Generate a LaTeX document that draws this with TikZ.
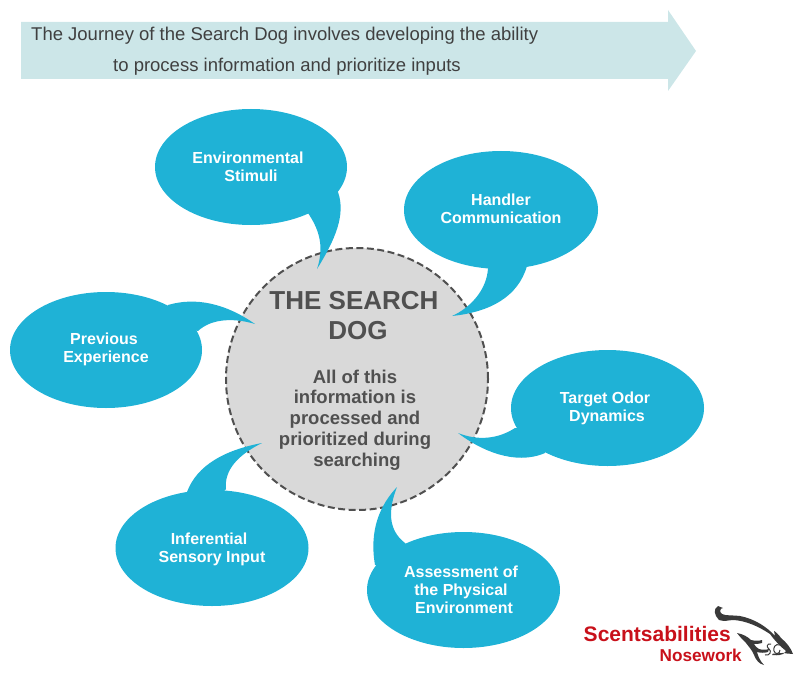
\documentclass[tikz,border=0pt]{standalone}
\usepackage{fontspec}
\setmainfont{Liberation Sans}
\definecolor{bub}{HTML}{1FB2D6}
\definecolor{band}{HTML}{CCE6E8}
\definecolor{disc}{HTML}{D9D9D9}
\definecolor{ink}{HTML}{505050}
\definecolor{logored}{HTML}{C8101A}
\definecolor{dog}{HTML}{3A3A3A}
\tikzset{
  bubfill/.style={fill=bub,draw=none},
  bubtext/.style={text=white,font=\fontsize{16}{18}\selectfont\bfseries,align=center},
  discline/.style={draw=ink,line width=2pt,dash pattern=on 7pt off 3.5pt,fill=disc},
  bandtext/.style={text=black!75,font=\fontsize{18.5}{20}\selectfont,anchor=west},
}
\begin{document}
\begin{tikzpicture}[x=1pt,y=-1pt]
\useasboundingbox (0,0) rectangle (810,687);
% banner
\fill[band] (21,22) -- (668,22) -- (668,10) -- (696,51) -- (668,91) -- (668,79) -- (21,79) -- cycle;
\node[bandtext,inner sep=0] (l1) at (31,36) {The Journey of the Search Dog involves developing the ability};
\node[bandtext,inner sep=0] (l2) at (113,67) {to process information and prioritize inputs};
% disc
\node[circle,discline,minimum size=262pt,inner sep=0] (c) at (357,379) {};
\node[text=ink,font=\fontsize{26}{30}\selectfont\bfseries,align=center] (t) at (354,316) {THE SEARCH\\\hspace*{8pt}DOG};
\node[text=ink,font=\fontsize{18.5}{20.8}\selectfont\bfseries,align=center] (b) at (355,420) {All of this\\information is\\processed and\\prioritized during\\\hspace*{4pt}searching};
% bubbles
\fill[bubfill] (251,167) ellipse [x radius=96,y radius=58];
\fill[bubfill] (308,213) .. controls (318,228) and (325,245) .. (317,269) .. controls (335,240) and (346,215) .. (338,192) -- (300,180) -- cycle;
\node[bubtext] (a) at (248,167) {Environmental\\\hspace*{6pt}Stimuli};
\fill[bubfill] (501,210) ellipse [x radius=97,y radius=59];
\fill[bubfill] (488,268) .. controls (487,290) and (470,308) .. (452,316) .. controls (490,312) and (518,297) .. (527,266) -- (510,250) -- cycle;
\node[bubtext] (d) at (501,209) {Handler\\Communication};
\fill[bubfill] (106,350) ellipse [x radius=96,y radius=58];
\fill[bubfill] (168,305) .. controls (195,297) and (225,303) .. (255,324) .. controls (235,318) and (212,318) .. (198,331) -- (170,325) -- cycle;
\node[bubtext] (p) at (106,349.5) {\hspace*{-4pt}Previous\\Experience};
\fill[bubfill] (607.5,408) ellipse [x radius=96.5,y radius=58];
\fill[bubfill] (515,428) .. controls (498,439) and (478,441) .. (458,433) .. controls (480,450) and (515,466) .. (545,453) -- (550,430) -- cycle;
\node[bubtext] (o) at (605,408.5) {Target Odor\\\hspace*{4pt}Dynamics};
\fill[bubfill] (212,548) ellipse [x radius=96.5,y radius=58];
\fill[bubfill] (187,492) .. controls (197,465) and (225,450) .. (262,443) .. controls (238,455) and (224,470) .. (226,489) -- (205,510) -- cycle;
\node[bubtext] (i) at (212,549) {\hspace*{-6pt}Inferential\\Sensory Input};
\fill[bubfill] (463.5,590) ellipse [x radius=96.5,y radius=58];
\fill[bubfill] (375,565) .. controls (369,530) and (380,505) .. (397,487) .. controls (388,510) and (388,530) .. (405,543) -- (430,570) -- cycle;
\node[bubtext] (e) at (461,590) {Assessment of\\the Physical\\\hspace*{6pt}Environment};
% logo
\node[text=logored,font=\fontsize{21}{21}\selectfont\bfseries,inner sep=0,anchor=east] (s) at (731,634) {Scentsabilities};
\node[text=logored,font=\fontsize{17.2}{17}\selectfont\bfseries,inner sep=0,anchor=east] (n) at (742,655) {Nosework};
% dog mark
\fill[dog] (718,606) .. controls (713,609) and (714,615) .. (719,620) .. controls (725,622) and (728,620) .. (734,620) .. controls (746,621) and (758,626) .. (770,634) .. controls (775,641) and (781,647) .. (786,651) -- (783,654) .. controls (778,656) and (775,655) .. (772,655) -- (773,653.5) .. controls (778,654) and (782,652) .. (787,653.5) -- (793,654) .. controls (791,648) and (786,642) .. (781,638) .. controls (779,635) and (776,632) .. (774,631) -- (775,636) .. controls (767,627) and (755,619) .. (740,616) .. controls (733,615) and (726,616) .. (722,614) .. controls (719,612) and (720,608) .. (723,608) -- cycle;
\fill[dog] (737,633) .. controls (743,634) and (748,637) .. (751,640) .. controls (755,641) and (759,641) .. (762,640) -- (762,643) .. controls (759,644) and (756,644) .. (754,644) .. controls (755,646) and (757,648) .. (759,649) .. controls (762,650) and (766,650) .. (769,649) -- (768,652) .. controls (764,653) and (761,653) .. (757,652) .. controls (758,656) and (760,661) .. (764,665) .. controls (759,664) and (756,660) .. (754,655) .. controls (752,650) and (749,647) .. (746,643) .. controls (743,640) and (740,637) .. (737,633) -- cycle;
\draw[dog,line width=1pt] (771,644) .. controls (767,643) and (766,647) .. (769,649) .. controls (772,651) and (770,656) .. (765,655);
\draw[dog,line width=1pt] (780,645) .. controls (775,643) and (773,648) .. (774,651) .. controls (775,655) and (780,654) .. (780,650);
\end{tikzpicture}
\end{document}
